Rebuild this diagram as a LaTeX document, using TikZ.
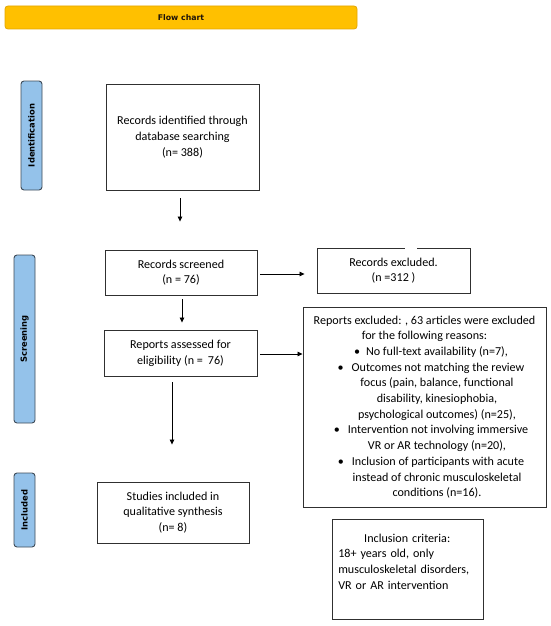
\documentclass[tikz,border=0pt]{standalone}
\usepackage{fontspec}
\setmainfont{Carlito}
\newfontfamily\lblfont{DejaVu Sans}
\usetikzlibrary{arrows.meta}
\definecolor{titlefill}{HTML}{FFC000}
\definecolor{titleline}{HTML}{E3A600}
\definecolor{lblfill}{HTML}{94C2EA}
\definecolor{lblline}{HTML}{3E4B58}
\definecolor{boxline}{HTML}{303030}
\newcommand\boxfont{\fontsize{12.1}{15.7}\selectfont}
\begin{document}
\begin{tikzpicture}[x=1pt,y=-1pt,
  box/.style={draw=boxline, line width=0.9pt, fill=white, inner sep=0pt, align=center, font=\boxfont},
  stagelbl/.style={draw=lblline, fill=lblfill, line width=0.9pt, rounded corners=3pt, inner sep=0pt,
    minimum width=21pt, font=\lblfont\bfseries\fontsize{8.4}{9}\selectfont},
  arr/.style={draw=black, line width=0.8pt, -{Triangle[length=5pt,width=4.5pt]}}]
\useasboundingbox (0,0) rectangle (550,626);
% title
\node[draw=titleline, fill=titlefill, line width=0.8pt, rounded corners=3pt,
  minimum width=352pt, minimum height=23pt, inner sep=0pt,
  font=\lblfont\bfseries\fontsize{7.8}{9}\selectfont, text=black!85!brown] (title) at (181,17.5) {Flow chart};
% stage labels
\node[stagelbl, minimum height=109pt] (lid) at (31.5,135.5) {\rotatebox{90}{Identification}};
\node[stagelbl, minimum height=168pt] (lsc) at (24.5,339) {\rotatebox{90}{Screening}};
\node[stagelbl, minimum height=74pt] (lin) at (24.5,510) {\rotatebox{90}{Included}};
% main column
\node[box, minimum width=153pt, minimum height=106pt] (b1) at (182.5,137)
  {\raisebox{-2pt}{Records identified through}\\\raisebox{-2pt}{database searching}\\\raisebox{-2pt}{(n= 388)}};
\node[box, minimum width=152pt, minimum height=45pt] (b2) at (181,272.5)
  {Records screened\\(n = 76)};
\node[box, minimum width=153pt, minimum height=46pt] (b3) at (180.5,353)
  {Reports assessed for\\eligibility (n =\hspace{5pt}76)};
\node[box, minimum width=152pt, minimum height=61pt] (b4) at (173,512.5)
  {Studies included in\\qualitative synthesis\\(n= 8)};
% right column
\node[box, minimum width=153pt, minimum height=45pt] (r1) at (393.5,270.5)
  {\raisebox{-3pt}{Records excluded.}\\\raisebox{-3pt}{(n =312 )}};
\fill[white] (405,247) rectangle (417,249.6);
\node[box, minimum width=243pt, minimum height=200pt] (r2) at (424.5,407)
  {Reports excluded: , 63 articles were excluded\\
   for the following reasons:\hspace*{33pt}\\
   \hspace*{13pt}\textbullet\hspace{6pt}No full-text availability (n=7),\\
   \hspace*{13pt}\textbullet\hspace{8pt}Outcomes not matching the review\\
   \hspace*{25pt}focus (pain, balance, functional\\
   \hspace*{25pt}disability, kinesiophobia,\\
   \hspace*{25pt}psychological outcomes) (n=25),\\
   \hspace*{13pt}\textbullet\hspace{8pt}Intervention not involving immersive\\
   \hspace*{25pt}VR or AR technology (n=20),\\
   \hspace*{13pt}\textbullet\hspace{8pt}Inclusion of participants with acute\\
   \hspace*{25pt}instead of chronic musculoskeletal\\
   \hspace*{25pt}conditions (n=16).};
\node[box, minimum width=151pt, minimum height=100pt] (r3) at (407.5,569) {};
\node[anchor=north west, inner sep=0pt, align=left, font=\boxfont, text width=142pt] (r3t)
  at ([shift={(6.5,15)}]r3.north west)
  {\makebox[138pt]{Inclusion criteria:}\\18+ years old, only\\musculoskeletal disorders,\\VR or AR intervention};
% arrows
\draw[arr] ([shift={(-2.5,8)}]b1.south) -- ([shift={(-1,-28)}]b2.north);
\draw[arr] ([shift={(1,4)}]b2.south) -- ([shift={(1.5,-7)}]b3.north);
\draw[arr] ([shift={(-8.5,6)}]b3.south) -- ([shift={(-1,-37)}]b4.north);
\draw[arr] ([shift={(3,1.5)}]b2.east) -- ([shift={(-12,3.5)}]r1.west);
\draw[arr] ([shift={(3,1)}]b3.east) -- ([shift={(0,-53)}]r2.west);
\end{tikzpicture}
\end{document}
